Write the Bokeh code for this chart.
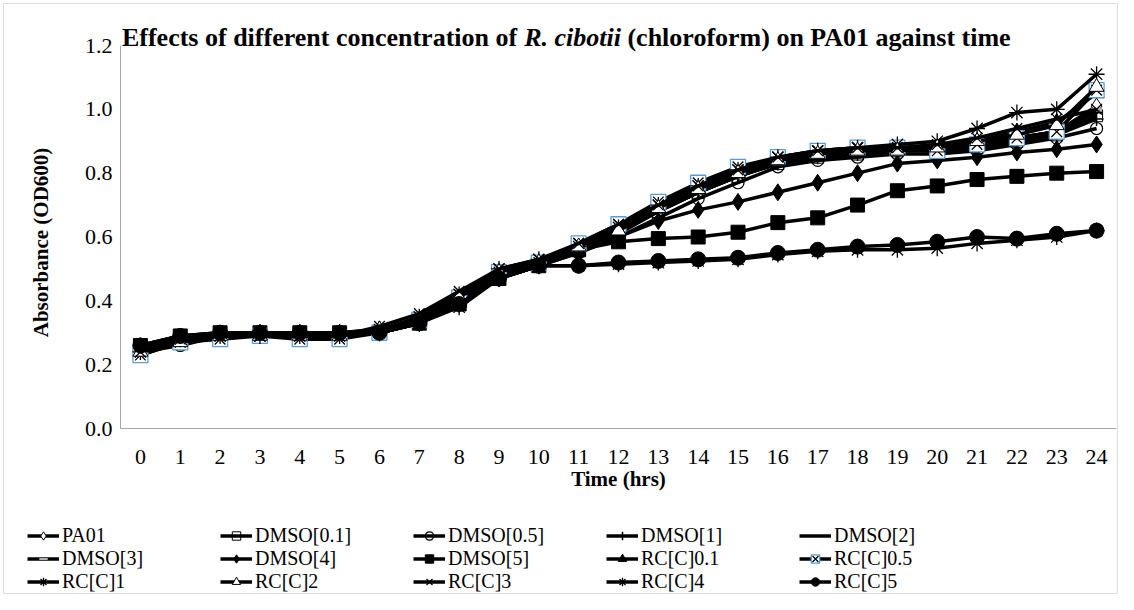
import math
from bokeh.plotting import figure
from bokeh.models import (Range1d, FixedTicker, Label, Legend, LegendItem,
                          NumeralTickFormatter, BoxAnnotation)
from bokeh.embed import file_html
from bokeh.resources import INLINE

# ---------------- data ----------------
hours = list(range(25))

pa01      = [0.24, 0.27, 0.29, 0.29, 0.29, 0.29, 0.30, 0.33, 0.39, 0.47, 0.51,
             0.56, 0.62, 0.69, 0.75, 0.80, 0.84, 0.86, 0.87, 0.87, 0.88, 0.89, 0.91, 0.93, 1.01]
dmso_0_1  = [0.23, 0.27, 0.29, 0.29, 0.29, 0.29, 0.30, 0.33, 0.39, 0.47, 0.51,
             0.56, 0.61, 0.68, 0.74, 0.79, 0.83, 0.85, 0.86, 0.87, 0.87, 0.88, 0.90, 0.92, 0.98]
dmso_0_5  = [0.24, 0.26, 0.29, 0.29, 0.29, 0.29, 0.30, 0.33, 0.39, 0.47, 0.51,
             0.55, 0.60, 0.66, 0.72, 0.77, 0.82, 0.84, 0.85, 0.86, 0.86, 0.87, 0.89, 0.91, 0.94]
dmso_1    = [0.25, 0.28, 0.29, 0.30, 0.30, 0.30, 0.30, 0.34, 0.40, 0.48, 0.51,
             0.56, 0.62, 0.68, 0.74, 0.79, 0.83, 0.85, 0.86, 0.87, 0.87, 0.88, 0.90, 0.92, 0.97]
dmso_2    = [0.25, 0.28, 0.29, 0.30, 0.30, 0.30, 0.31, 0.34, 0.40, 0.48, 0.52,
             0.56, 0.62, 0.68, 0.74, 0.79, 0.83, 0.85, 0.86, 0.87, 0.88, 0.89, 0.91, 0.93, 0.99]
dmso_3    = [0.25, 0.28, 0.29, 0.30, 0.30, 0.30, 0.31, 0.34, 0.40, 0.48, 0.52,
             0.57, 0.62, 0.69, 0.75, 0.80, 0.83, 0.85, 0.86, 0.87, 0.88, 0.89, 0.91, 0.93, 1.00]
dmso_4    = [0.25, 0.28, 0.29, 0.30, 0.30, 0.30, 0.30, 0.33, 0.39, 0.47, 0.51,
             0.55, 0.60, 0.65, 0.685, 0.71, 0.74, 0.77, 0.80, 0.83, 0.84, 0.85, 0.865, 0.875, 0.89]
dmso_5    = [0.26, 0.29, 0.30, 0.30, 0.30, 0.30, 0.30, 0.33, 0.39, 0.47, 0.51,
             0.56, 0.585, 0.595, 0.60, 0.615, 0.645, 0.66, 0.70, 0.745, 0.76, 0.78, 0.79, 0.80, 0.805]
rc_0_1    = [0.24, 0.28, 0.29, 0.29, 0.29, 0.29, 0.31, 0.34, 0.41, 0.49, 0.52,
             0.57, 0.63, 0.69, 0.75, 0.80, 0.84, 0.86, 0.87, 0.87, 0.88, 0.90, 0.93, 0.96, 1.05]
rc_0_5    = [0.23, 0.27, 0.28, 0.29, 0.28, 0.28, 0.30, 0.34, 0.41, 0.49, 0.52,
             0.58, 0.64, 0.71, 0.77, 0.82, 0.85, 0.87, 0.88, 0.88, 0.87, 0.89, 0.91, 0.93, 1.06]
rc_1      = [0.24, 0.28, 0.29, 0.29, 0.29, 0.29, 0.31, 0.35, 0.42, 0.50, 0.53,
             0.57, 0.63, 0.70, 0.76, 0.81, 0.85, 0.87, 0.88, 0.89, 0.90, 0.94, 0.99, 1.00, 1.11]
rc_2      = [0.24, 0.27, 0.29, 0.29, 0.29, 0.29, 0.31, 0.34, 0.41, 0.49, 0.52,
             0.57, 0.62, 0.69, 0.75, 0.80, 0.84, 0.86, 0.87, 0.87, 0.88, 0.90, 0.92, 0.95, 1.07]
rc_3      = [0.24, 0.28, 0.29, 0.29, 0.29, 0.29, 0.32, 0.36, 0.43, 0.50, 0.53,
             0.58, 0.64, 0.70, 0.76, 0.81, 0.85, 0.87, 0.88, 0.88, 0.89, 0.91, 0.94, 0.97, 1.00]
rc_4      = [0.26, 0.29, 0.30, 0.30, 0.30, 0.30, 0.30, 0.33, 0.38, 0.47, 0.51,
             0.51, 0.515, 0.52, 0.525, 0.53, 0.545, 0.555, 0.56, 0.56, 0.565, 0.58, 0.59, 0.60, 0.62]
rc_5      = [0.26, 0.29, 0.30, 0.30, 0.30, 0.30, 0.30, 0.33, 0.39, 0.47, 0.51,
             0.51, 0.52, 0.525, 0.53, 0.535, 0.55, 0.56, 0.57, 0.575, 0.585, 0.60, 0.595, 0.61, 0.62]

series_names = ["PA01", "DMSO[0.1]", "DMSO[0.5]", "DMSO[1]", "DMSO[2]",
                "DMSO[3]", "DMSO[4]", "DMSO[5]", "RC[C]0.1", "RC[C]0.5",
                "RC[C]1", "RC[C]2", "RC[C]3", "RC[C]4", "RC[C]5"]
series_values = [pa01, dmso_0_1, dmso_0_5, dmso_1, dmso_2,
                 dmso_3, dmso_4, dmso_5, rc_0_1, rc_0_5,
                 rc_1, rc_2, rc_3, rc_4, rc_5]
y_ticks = [0.0, 0.2, 0.4, 0.6, 0.8, 1.0, 1.2]

title_a = "Effects of different concentration of"
title_b = "R. cibotii"
title_c = "(chloroform) on PA01 against time"
y_title = "Absorbance (OD600)"
x_title = "Time (hrs)"

# ---------------- styles ----------------
FONT = "Liberation Serif"
BLUE = "#5B9BD5"
marker_styles = {
    "PA01":      [dict(marker="diamond", size=16, fill_color="white", line_color="black", line_width=1)],
    "DMSO[0.1]": [dict(marker="square", size=12, fill_alpha=0, line_color="black", line_width=1)],
    "DMSO[0.5]": [dict(marker="circle", size=12, fill_alpha=0, line_color="black", line_width=1.2)],
    "DMSO[1]":   [dict(marker="cross", size=14, line_color="black", line_width=1.5)],
    "DMSO[2]":   [dict(marker="dash", size=11, line_color="black", line_width=2)],
    "DMSO[3]":   [dict(marker="dash", size=11, line_color="#b0b0b0", line_width=2)],
    "DMSO[4]":   [dict(marker="diamond", size=17, fill_color="black", line_color="black")],
    "DMSO[5]":   [dict(marker="square", size=14, fill_color="black", line_color="black")],
    "RC[C]0.1":  [dict(marker="triangle", size=15, fill_color="black", line_color="black")],
    "RC[C]0.5":  [dict(marker="square", size=15, fill_color="white", line_color=BLUE, line_width=1.3),
                  dict(marker="x", size=15, line_color="black", line_width=1.3)],
    "RC[C]1":    [dict(marker="asterisk", size=16, line_color="black", line_width=1.3)],
    "RC[C]2":    [dict(marker="triangle", size=15, fill_color="white", line_color="black", line_width=1)],
    "RC[C]3":    [dict(marker="x", size=15, line_color="black", line_width=1.3)],
    "RC[C]4":    [dict(marker="asterisk", size=16, line_color="black", line_width=1.3)],
    "RC[C]5":    [dict(marker="circle", size=15, fill_color="black", line_color="black")],
}

# ---------------- layout (pixels in the figure) ----------------
W, H = 1118, 594
PL, PR, PT, PB = 120, 1116, 45, 428          # plot area edges
X0, X1, Y0, Y1 = -0.5, 24.5, 0.0, 1.2
sx = (PR - PL) / (X1 - X0)
sy = (PB - PT) / (Y1 - Y0)
xr = Range1d(X0 - PL / sx, X1 + (W - PR) / sx)
yr = Range1d(Y0 - (H - PB) / sy, Y1 + PT / sy)

p = figure(width=W, height=H, output_backend="svg", toolbar_location=None,
           x_range=xr, y_range=yr, min_border=0)
p.min_border_left = p.min_border_right = p.min_border_top = p.min_border_bottom = 0
p.title.visible = False
p.outline_line_color = None
p.xgrid.visible = False
p.ygrid.visible = False
p.background_fill_color = "white"
p.border_fill_color = "white"

# outer chart border
p.add_layout(BoxAnnotation(left=3, right=W - 1, bottom=1, top=H - 3,
                           left_units="screen", right_units="screen",
                           top_units="screen", bottom_units="screen",
                           fill_alpha=0, line_color="#8c8c8c", line_width=1))

for ax in (p.xaxis[0], p.yaxis[0]):
    ax.axis_line_color = "#a6a6a6"
    ax.axis_line_width = 1
    ax.major_tick_line_color = None
    ax.minor_tick_line_color = None
    ax.major_label_text_font = FONT
    ax.major_label_text_font_size = "22px"
    ax.major_label_text_color = "black"

p.xaxis[0].ticker = FixedTicker(ticks=hours)
p.xaxis[0].fixed_location = Y0
p.xaxis[0].bounds = (X0, X1)
p.xaxis[0].major_label_standoff = 15
p.yaxis[0].ticker = FixedTicker(ticks=y_ticks)
p.yaxis[0].formatter = NumeralTickFormatter(format="0.0")
p.yaxis[0].fixed_location = X0
p.yaxis[0].bounds = (Y0, Y1)
p.yaxis[0].major_tick_out = 0
p.yaxis[0].major_tick_in = 0
p.yaxis[0].major_label_standoff = 8

items = []
for name, vals in zip(series_names, series_values):
    rends = [p.line(hours, vals, line_color="black", line_width=3.5)]
    for st in marker_styles[name]:
        rends.append(p.scatter(hours, vals, **st))
    items.append(LegendItem(label=name, renderers=rends))

legend = Legend(items=items, orientation="horizontal", ncols=5,
                location=(27, 1),
                label_text_font=FONT, label_text_font_size="20px",
                label_text_color="black",
                glyph_width=32, glyph_height=21, label_standoff=3,
                label_width=158, spacing=0, padding=0, margin=0,
                border_line_color=None, background_fill_alpha=0)
p.add_layout(legend, "center")

# ---------------- titles ----------------
TF = 26  # title font size (px)
w_a, w_sp, w_b, w_c = 15.218 * TF, 0.25 * TF, 3.723 * TF, 14.831 * TF
total = w_a + w_sp + w_b + w_sp + w_c
x0 = 567 - total / 2
ty = H - 37
common = dict(x_units="screen", y_units="screen", text_font=FONT,
              text_font_size=f"{TF}px", text_font_style="bold",
              text_baseline="middle", text_align="left", text_color="black")
p.add_layout(Label(x=x0, y=ty, text=title_a, **common))
p.add_layout(Label(x=x0 + w_a + w_sp, y=ty, text=title_b,
                   **{**common, "text_font_style": "bold italic"}))
p.add_layout(Label(x=x0 + w_a + w_sp + w_b + w_sp, y=ty, text=title_c, **common))

p.add_layout(Label(x=40, y=H - 242, x_units="screen", y_units="screen", text=y_title,
                   angle=math.pi / 2, text_align="center", text_baseline="middle",
                   text_font=FONT, text_font_size="21px", text_font_style="bold",
                   text_color="black"))
p.add_layout(Label(x=618, y=H - 478, x_units="screen", y_units="screen", text=x_title,
                   text_align="center", text_baseline="middle",
                   text_font=FONT, text_font_size="21px", text_font_style="bold",
                   text_color="black"))

open("out.html", "w").write(file_html(p, INLINE))
